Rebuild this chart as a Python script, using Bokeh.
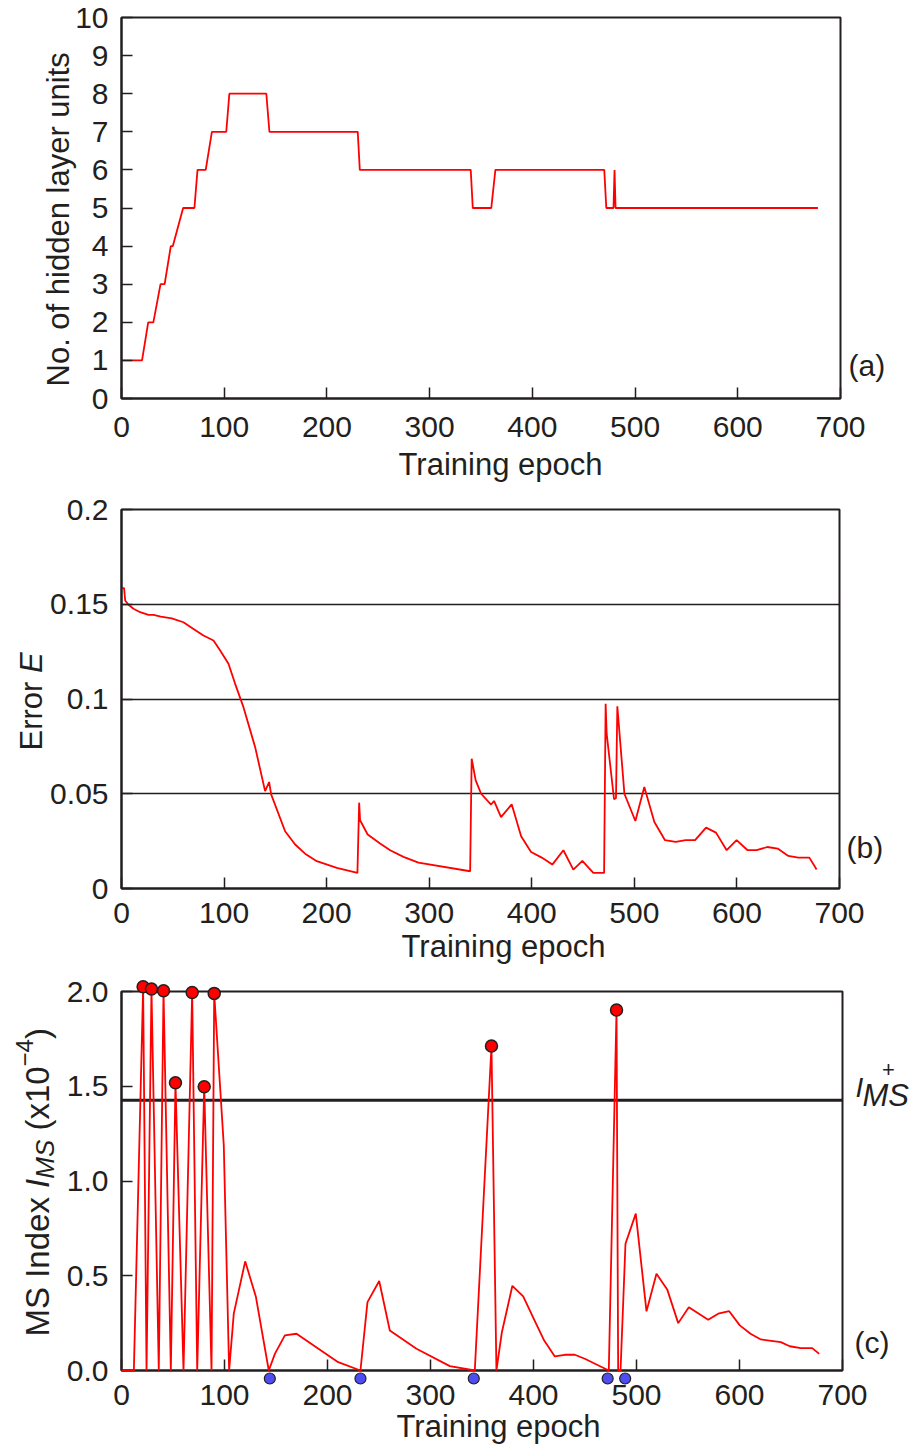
import math
from bokeh.plotting import figure
from bokeh.layouts import column
from bokeh.models import Range1d, Span, FixedTicker, NumeralTickFormatter
from bokeh.core.properties import value
from bokeh.embed import file_html
from bokeh.resources import INLINE

# ---------------- data ----------------
epoch_ticks = [0, 100, 200, 300, 400, 500, 600, 700]

# (a) number of hidden layer units
a_epoch = [0, 20, 26, 31, 38, 42, 48, 50, 60, 71, 74, 82, 88, 102, 105, 141, 144,
           230, 232, 340, 342, 360, 364, 470, 472, 479, 480, 481, 678]
a_units = [1, 1, 2, 2, 3, 3, 4, 4, 5, 5, 6, 6, 7, 7, 8, 8, 7,
           7, 6, 6, 5, 5, 6, 6, 5, 5, 6, 5, 5]
a_yticks = [0, 1, 2, 3, 4, 5, 6, 7, 8, 9, 10]

# (b) error E
b_epoch = [0, 2.5, 3.6, 6.8, 11.7, 18.2, 26.3, 31.2, 38.3, 49, 60.4, 70.2, 79.9, 89.7,
           96.2, 104.3, 110.8, 118.9, 130.3, 140, 143.9, 145.9, 159.5, 169.3, 179, 190.4,
           209.9, 230, 231.7, 232.6, 240, 252.1, 261.9, 274.9, 289.5, 339.9, 341.4, 345.3,
           350.6, 360.3, 363.2, 370, 380.4, 389.6, 399.3, 409.7, 420, 430.8, 440.5, 449.3,
           460, 470.5, 472, 473, 480.2, 482.1, 483.4, 490.3, 501, 509.7, 519.5, 529.9,
           540.3, 550, 559.2, 569.9, 579.6, 590, 599.7, 610.4, 619.2, 629.6, 639.7, 650.1,
           659.8, 670.6, 677.7]
b_error = [0.1585, 0.1585, 0.152, 0.1497, 0.1476, 0.1458, 0.1444, 0.1444, 0.1435, 0.1426,
           0.1405, 0.137, 0.1335, 0.1309, 0.1256, 0.1186, 0.108, 0.0957, 0.0746, 0.0514,
           0.0562, 0.0497, 0.0302, 0.0232, 0.0184, 0.0144, 0.0109, 0.0082, 0.0453, 0.036,
           0.0285, 0.0237, 0.0202, 0.0167, 0.0137, 0.0091, 0.0685, 0.0571, 0.05, 0.0443,
           0.0462, 0.0377, 0.0444, 0.0276, 0.0193, 0.0163, 0.0126, 0.0202, 0.01, 0.0146,
           0.0082, 0.0082, 0.0975, 0.0817, 0.0471, 0.0478, 0.0962, 0.05, 0.0356, 0.0536,
           0.0351, 0.0255, 0.0246, 0.0255, 0.0255, 0.0321, 0.0295, 0.0202, 0.0255, 0.0202,
           0.0202, 0.0219, 0.0211, 0.0172, 0.0163, 0.0163, 0.01]
b_yticks = [0, 0.05, 0.1, 0.15, 0.2]
b_ylabels = ["0", "0.05", "0.1", "0.15", "0.2"]
b_gridlines = [0.05, 0.1, 0.15]

# (c) MS index (x1e-4)
c_epoch = [0, 12, 21, 24.3, 29.1, 36.2, 40.8, 47.9, 52.4, 60.2, 68.6, 73.5, 80.3, 87.4, 90,
           99.3, 104.5, 109, 120.1, 130.4, 143, 148.9, 158.6, 169.9, 210.4, 232, 238.8,
           250.2, 260.5, 286.4, 318.8, 343, 359.2, 364, 369.3, 379.5, 390, 400.3, 410.4,
           420.7, 430.4, 440.1, 449.8, 473.1, 480.6, 482.2, 484.5, 489.3, 499.3, 509.7,
           519.4, 529.8, 540.5, 550.8, 569.6, 579.3, 590, 600.3, 610.7, 620.7, 640.1, 648.8,
           659.5, 670.6, 677.4]
c_index = [0, 0, 2.025, 0, 2.013, 0, 2.004, 0, 1.518, 0, 1.995, 0, 1.497, 0, 1.99,
           1.189, 0, 0.3, 0.576, 0.391, 0, 0.088, 0.185, 0.194, 0.044, 0, 0.361,
           0.472, 0.211, 0.115, 0.023, 0, 1.712, 0, 0.202, 0.447, 0.391, 0.273, 0.158,
           0.074, 0.083, 0.083, 0.062, 0, 1.902, 0, 0, 0.669, 0.828, 0.312,
           0.511, 0.428, 0.25, 0.334, 0.268, 0.3, 0.313, 0.238, 0.194, 0.164, 0.15, 0.128,
           0.118, 0.118, 0.088]
c_yticks = [0, 0.5, 1.0, 1.5, 2.0]
i_ms_plus = 1.426
prune_epochs = [144, 232, 342, 472, 489]

# ---------------- style / layout ----------------
FONT = "Liberation Sans"
INK = "#231f20"
RED = "#ff0000"
BLUE = "#4d4df2"
PAGE_W = 913

FR = {
    "a": dict(L=121, T=17, W=719, H=381, top=17, bottom=91, x=(0, 700), y=(0, 10)),
    "b": dict(L=118, T=509, W=718, H=379, top=20, bottom=85, x=(0, 700), y=(0, 0.2)),
    "c": dict(L=115, T=991, W=721, H=379, top=18, bottom=76, x=(0, 700), y=(0, 2.0)),
}

ARIAL = {' ': .278, 'M': .833, 'S': .667, 'I': .278, 'n': .556, 'd': .556, 'e': .556,
         'x': .5, '(': .333, ')': .333, '1': .556, '0': .556, '\u2212': .584, '4': .556,
         'E': .667, 'r': .333, 'o': .556, 'N': .722, '.': .278, 'f': .278, 'h': .556,
         'i': .222, 'l': .222, 'a': .556, 'y': .5, 'u': .556, 't': .278, 's': .5}


def tw(s, size):
    return sum(ARIAL.get(ch, 0.556) for ch in s) * size


def px2x(f, px):
    return f["x"][0] + (px - f["L"]) / f["W"] * (f["x"][1] - f["x"][0])


def px2y(f, py):
    return f["y"][0] + (f["T"] + f["H"] - py) / f["H"] * (f["y"][1] - f["y"][0])


def make_fig(f, yticks):
    p = figure(frame_width=f["W"], frame_height=f["H"],
               min_border_left=f["L"], min_border_right=PAGE_W - f["L"] - f["W"],
               min_border_top=f["top"], min_border_bottom=f["bottom"],
               x_range=Range1d(*f["x"]), y_range=Range1d(*f["y"]),
               output_backend="svg", toolbar_location=None,
               background_fill_color="white", border_fill_color="white")
    p.xaxis.ticker = FixedTicker(ticks=epoch_ticks)
    p.yaxis.ticker = FixedTicker(ticks=yticks)
    p.xgrid.visible = False
    p.ygrid.visible = False
    for ax in p.axis:
        ax.axis_line_color = INK
        ax.axis_line_width = 2
        ax.major_tick_line_color = INK
        ax.major_tick_line_width = 1.5
        ax.major_tick_in = 11
        ax.major_tick_out = 0
        ax.minor_tick_in = 0
        ax.minor_tick_out = 0
        ax.major_label_text_font = FONT
        ax.major_label_text_font_size = "30px"
        ax.major_label_text_color = INK
    p.yaxis.major_label_standoff = 13
    p.outline_line_color = INK
    p.outline_line_width = 2
    p.outline_line_alpha = 1
    return p


def add_text(p, f, text, px, py, size, style="normal", align="left",
             baseline="middle", angle=0.0):
    p.text(x=[px2x(f, px)], y=[px2y(f, py)], text=[text], angle=angle,
           text_font=value(FONT), text_font_size=f"{size}px",
           text_font_style=style, text_color=INK,
           text_align=align, text_baseline=baseline, level="overlay")


def rot_label(p, f, pieces, mid_px, start_py):
    """pieces: (text, size, style, dx, gap_after_px); text rotated to read upward"""
    cum = 0.0
    for text, size, style, dx, gap in pieces:
        add_text(p, f, text, mid_px + dx, start_py - cum, size, style,
                 angle=math.pi / 2)
        cum += tw(text, size) + gap


# ---------------- (a) ----------------
fa = FR["a"]
pa = make_fig(fa, a_yticks)
pa.xaxis.major_label_standoff = 18
pa.line(a_epoch, a_units, line_color=RED, line_width=1.8)
rot_label(pa, fa, [("No. of hidden layer units", 31, "normal", 0, 0)], 58, 386)
add_text(pa, fa, "Training epoch", 500, 464, 31, align="center")
add_text(pa, fa, "(a)", 848, 365, 30)

# ---------------- (b) ----------------
fb = FR["b"]
pb = make_fig(fb, b_yticks)
pb.xaxis.major_label_standoff = 14
pb.yaxis.major_label_overrides = dict(zip(b_yticks, b_ylabels))
pb.ygrid.visible = True
pb.ygrid.ticker = FixedTicker(ticks=b_gridlines)
pb.ygrid.grid_line_color = INK
pb.ygrid.grid_line_width = 1.5
pb.line(b_epoch, b_error, line_color=RED, line_width=1.8)
rot_label(pb, fb, [("Error", 31, "normal", 0, tw(" ", 31)),
                   ("E", 31, "italic", 0, 0)], 28, 750)
add_text(pb, fb, "Training epoch", 500, 946, 31, align="center")
add_text(pb, fb, "(b)", 843, 847, 30)

# ---------------- (c) ----------------
fc = FR["c"]
pc = make_fig(fc, c_yticks)
pc.xaxis.major_label_standoff = 14
pc.yaxis.formatter = NumeralTickFormatter(format="0.0")
pc.add_layout(Span(location=i_ms_plus, dimension="width", line_color=INK, line_width=3))
pc.line(c_epoch, c_index, line_color=RED, line_width=1.8, level="overlay")
add_x = [e for e, v in zip(c_epoch, c_index) if v > i_ms_plus]
add_y = [v for v in c_index if v > i_ms_plus]
pc.scatter(add_x, add_y, size=12, fill_color=RED, line_color=INK, line_width=1.5,
           level="overlay")
prune_y = [px2y(fc, 1378)] * len(prune_epochs)
pc.scatter(prune_epochs, prune_y, size=11, fill_color=BLUE, line_color=INK,
           line_width=1.2, level="overlay")
rot_label(pc, fc, [("MS Index", 33, "normal", 0, tw(" ", 33)),
                   ("I", 33, "italic", 0, 0),
                   ("MS", 26, "italic", 7, tw(" ", 33)),
                   ("(x10", 33, "normal", 0, 0),
                   ("\u22124", 24, "normal", -13, 0),
                   (")", 33, "normal", 0, 0)], 31, 1336)
add_text(pc, fc, "I", 849, 1087, 28, "italic")
add_text(pc, fc, "MS", 856, 1095, 31, "italic")
add_text(pc, fc, "+", 882, 1069, 22, align="center")
add_text(pc, fc, "Training epoch", 492, 1426, 31, align="center")
add_text(pc, fc, "(c)", 848, 1342, 30)

layout = column(pa, pb, pc, spacing=0)
open("out.html", "w").write(file_html(layout, INLINE))
